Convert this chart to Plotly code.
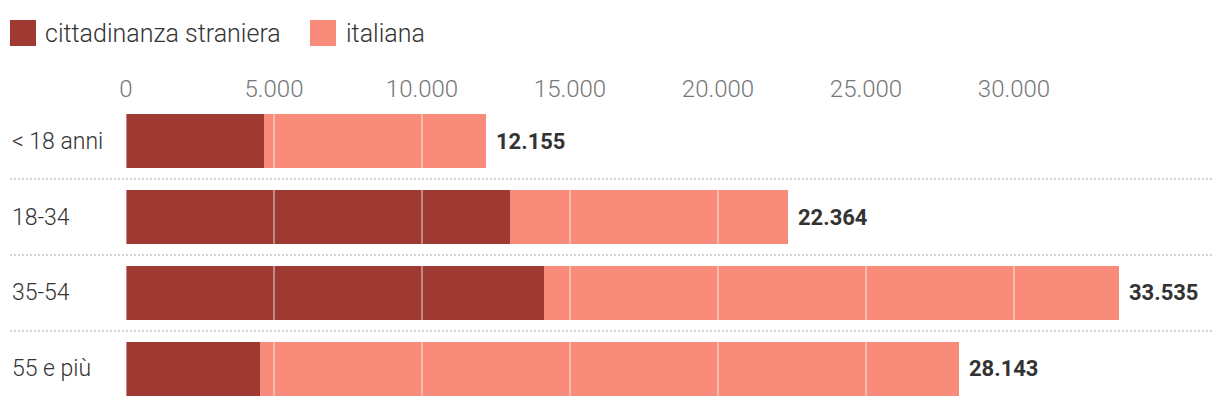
import plotly.graph_objects as go

categories = ["< 18 anni", "18-34", "35-54", "55 e più"]
totale = [12155, 22364, 33535, 28143]
straniera = [4666, 12976, 14128, 4527]
italiana = [t - s for t, s in zip(totale, straniera)]
tick_values = [0, 5000, 10000, 15000, 20000, 25000, 30000]
series_names = ["cittadinanza straniera", "italiana"]

DARK = "#9e3a32"
LIGHT = "#f88b79"
FONT = "Roboto"
OFF = 8  # page body offset

W, H = 1220, 406
ML, MR, MT, MB = 126 - OFF, 10 + OFF, 103 - OFF, OFF
PW = W - ML - MR
PH = H - MT - MB


def fmt(v):
    return f"{v:,}".replace(",", ".")


def px_x(px):
    return (px - OFF - ML) / PW


def px_y(py):
    return (H - MB - (py - OFF)) / PH


fig = go.Figure()
fig.add_trace(go.Bar(y=categories, x=straniera, orientation="h", name=series_names[0],
                     marker=dict(color=DARK, line=dict(width=0)), width=0.71,
                     showlegend=False, hoverinfo="skip"))
fig.add_trace(go.Bar(y=categories, x=italiana, orientation="h", name=series_names[1],
                     marker=dict(color=LIGHT, line=dict(width=0)), width=0.71,
                     showlegend=False, hoverinfo="skip"))

shapes = []
annotations = []
# gridlines drawn over bars
for t in tick_values:
    shapes.append(dict(type="line", xref="x", yref="paper", x0=t, x1=t, y0=0, y1=1,
                       layer="above", line=dict(color="rgba(255,255,255,0.4)", width=2)))
# row separators
for i in range(len(categories) - 1):
    shapes.append(dict(type="line", xref="paper", yref="y", x0=px_x(10), x1=px_x(1212),
                       y0=i + 0.5, y1=i + 0.5,
                       line=dict(color="#d2d2d2", width=2, dash="2px,2px")))
# category labels
for c in categories:
    annotations.append(dict(xref="paper", yref="y", x=px_x(10), y=c, xanchor="left",
                            yanchor="middle", text=c, showarrow=False,
                            font=dict(family=FONT, size=23, color="#333333", weight=300)))
# total labels
for c, v in zip(categories, totale):
    annotations.append(dict(xref="x", yref="y", x=v, y=c, xanchor="left", xshift=8,
                            yanchor="middle", text="<b>" + fmt(v) + "</b>", showarrow=False,
                            font=dict(family=FONT, size=22, color="#333333")))
# legend
leg_sq = [(10, 36), (310, 336)]
leg_txt = [43, 344]
for (a, b), tx, name, col in zip(leg_sq, leg_txt, series_names, [DARK, LIGHT]):
    shapes.append(dict(type="rect", xref="paper", yref="paper", x0=px_x(a), x1=px_x(b),
                       y0=px_y(46), y1=px_y(20), fillcolor=col, line=dict(width=0)))
    annotations.append(dict(xref="paper", yref="paper", x=px_x(tx), y=px_y(33),
                            xanchor="left", yanchor="middle", text=name, showarrow=False,
                            font=dict(family=FONT, size=25, color="#333333", weight=300)))

fig.update_layout(
    width=W, height=H,
    margin=dict(l=ML, r=MR, t=MT, b=MB),
    barmode="stack",
    bargap=0,
    separators=",.",
    plot_bgcolor="white", paper_bgcolor="white",
    showlegend=False,
    shapes=shapes,
    annotations=annotations,
    xaxis=dict(side="top", range=[0, PW / 0.0296], tickvals=tick_values,
               tickformat=",d", showgrid=False, zeroline=False, showline=False, ticks="",
               tickfont=dict(family=FONT, size=24, color="#777777", weight=300)),
    yaxis=dict(type="category", categoryorder="array", categoryarray=categories,
               range=[3.487, -0.5], showticklabels=False, showgrid=False,
               zeroline=False, showline=False, ticks=""),
)

fig.write_html("out.html")
